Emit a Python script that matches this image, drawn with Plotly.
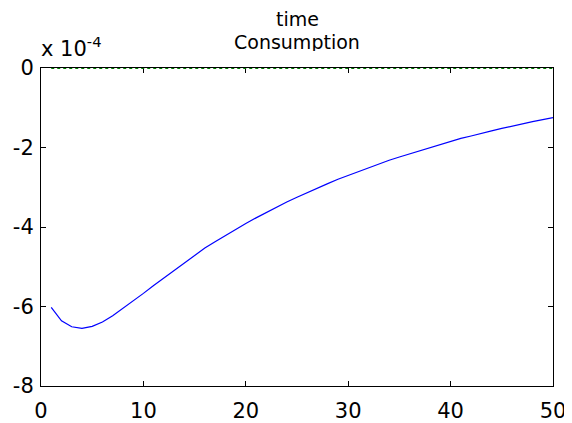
import plotly.graph_objects as go

# time periods
t = list(range(1, 51))
# consumption response (in units of 1e-4)
consumption_e4 = [-6.02, -6.36, -6.51, -6.55, -6.50, -6.39, -6.23, -6.05, -5.86, -5.67,
                  -5.47, -5.28, -5.08, -4.89, -4.71, -4.53, -4.37, -4.21, -4.05, -3.91,
                  -3.77, -3.63, -3.50, -3.37, -3.25, -3.13, -3.02, -2.91, -2.80, -2.70,
                  -2.60, -2.50, -2.41, -2.32, -2.24, -2.16, -2.08, -2.00, -1.92, -1.84,
                  -1.77, -1.71, -1.64, -1.58, -1.52, -1.46, -1.41, -1.35, -1.30, -1.25]
zero_line = [0.0] * 50
scale = 1e-4
y_tick_mantissa = [0, -2, -4, -6, -8]
x_ticks = [0, 10, 20, 30, 40, 50]

consumption = [v * scale for v in consumption_e4]

fig = go.Figure()
fig.add_trace(go.Scatter(x=t, y=consumption, mode="lines",
                         line=dict(color="rgb(0,0,255)", width=1.2), showlegend=False))
fig.add_trace(go.Scatter(x=t, y=zero_line, mode="lines",
                         line=dict(color="rgb(0,128,0)", width=2, dash="dot"),
                         showlegend=False, cliponaxis=False))

tick_font = dict(family="DejaVu Sans, sans-serif", size=21, color="black")
title_font = dict(family="DejaVu Sans, sans-serif", size=19, color="black")
note_font = dict(family="DejaVu Sans, sans-serif", size=21, color="black")

# the page body adds an 8px offset, so the figure is sized to fit the window
fig.update_layout(
    width=564, height=415,
    margin=dict(l=33, r=19, t=60, b=37),
    paper_bgcolor="white", plot_bgcolor="white",
    font=tick_font,
    xaxis=dict(range=[0, 50], tickvals=x_ticks, ticks="inside", ticklen=5,
               tickcolor="black", showline=True, linecolor="black", linewidth=1,
               mirror="ticks", showgrid=False, zeroline=False, layer="below traces",
               tickfont=tick_font, automargin=False, ticklabelstandoff=6),
    yaxis=dict(range=[-8 * scale, 0], tickvals=[m * scale for m in y_tick_mantissa],
               ticktext=[str(m) for m in y_tick_mantissa], ticks="inside", ticklen=5,
               tickcolor="black", showline=True, linecolor="black", linewidth=1,
               mirror="ticks", showgrid=False, zeroline=False, layer="below traces",
               tickfont=tick_font, automargin=False, ticklabelstandoff=2),
    annotations=[
        dict(text="time", x=0.5, xref="paper", y=1, yref="paper",
             yshift=39, xanchor="center", yanchor="bottom", showarrow=False,
             font=title_font, height=19, borderpad=0),
        dict(text="Consumption", x=0.5, xref="paper", y=1, yref="paper",
             yshift=16, xanchor="center", yanchor="bottom", showarrow=False,
             font=title_font, height=19, borderpad=0),
        dict(text="x 10<sup>-4</sup>", x=0, xref="paper", y=1, yref="paper",
             xshift=-2, yshift=5, xanchor="left", yanchor="bottom", showarrow=False,
             font=note_font),
    ],
)

fig.write_html("out.html")
